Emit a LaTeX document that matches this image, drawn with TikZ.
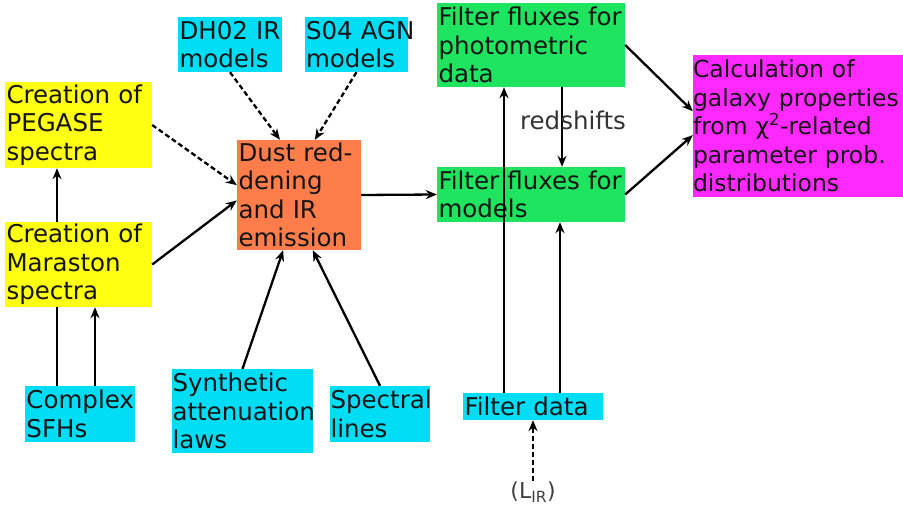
\documentclass[tikz,border=0pt]{standalone}
\usepackage{fontspec}
\setmainfont{DejaVu Sans}
\usetikzlibrary{arrows.meta}
\definecolor{boxyellow}{RGB}{255,255,20}
\definecolor{boxcyan}{RGB}{0,221,245}
\definecolor{boxorange}{RGB}{255,125,75}
\definecolor{boxgreen}{RGB}{30,228,95}
\definecolor{boxmagenta}{RGB}{255,40,255}

\begin{document}
\begin{tikzpicture}[x=1pt,y=-1pt,
		box/.style={fill=#1, text=black!92, inner sep=0pt, align=left, font=\fontsize{24.5}{28.5}\selectfont},
		flow/.style={-{Stealth[length=11pt,width=9pt]}, line width=2.3pt},
		dflow/.style={flow, dash pattern=on 5pt off 3pt}]
			\useasboundingbox (0,0) rectangle (903,506);
			% input models
			\node[box=boxcyan, minimum width=104, minimum height=55, text width=101] (dh02) at (230,44.5) {DH02~IR\\models};
			\node[box=boxcyan, minimum width=103, minimum height=55, text width=101] (s04) at (356.5,44.5) {S04~AGN\\models};
			\node[box=boxyellow, minimum width=147, minimum height=86, text width=144] (pegase) at (78.5,125) {Creation~of\\PEGASE\\spectra};
			\node[box=boxyellow, minimum width=147, minimum height=85, text width=144] (maraston) at (78.5,264.5) {Creation~of\\Maraston\\spectra};
			\node[box=boxorange, minimum width=124, minimum height=110, text width=121] (dust) at (299,195) {Dust~red-\\dening\\and~IR\\emission};
			\node[box=boxcyan, minimum width=110, minimum height=56, text width=107] (sfh) at (80,414) {Complex\\SFHs};
			\node[box=boxcyan, minimum width=141, minimum height=84, text width=140] (synth) at (242.5,411) {Synthetic\\attenuation\\laws};
			\node[box=boxcyan, minimum width=100, minimum height=56, text width=99] (lines) at (380,414) {Spectral\\lines};
			% fluxes and fitting
			\node[box=boxgreen, minimum width=188, minimum height=84, text width=185] (photo) at (531,45) {Filter~fluxes~for\\photometric\\data};
			\node[box=boxgreen, minimum width=188, minimum height=55, text width=185] (models) at (531,194.5) {Filter~fluxes~for\\models};
			\node[box=boxmagenta, minimum width=210, minimum height=142, text width=210, font=\fontsize{23.5}{28.5}\selectfont] (calc) at (798,126) {Calculation~of\\galaxy~properties\\from~χ\textsuperscript{2}-related\\parameter~prob.\\distributions};
			\node[box=boxcyan, minimum width=140, minimum height=27, text width=137] (filterdata) at (533,406.5) {Filter~data};
			\node[text=black!75, inner sep=0pt, font=\fontsize{22}{26}\selectfont] (lir) at (533,492) {(L\textsubscript{IR})};

			\draw[dflow] (dh02.south) -- (dust.109);
			\draw[dflow] (s04.south) -- (dust.74);
			\draw[dflow] (pegase.east) -- (dust.171);
			\draw[flow] (maraston.east) -- (dust.185);
			\draw[flow] ([xshift=-21.5pt]maraston.north) -- ([xshift=-21.5pt]pegase.south);
			\draw[line width=2.3pt] ([xshift=-23pt]sfh.north) -- ([xshift=-23pt]sfh.north |- maraston.south);
			\draw[flow] ([xshift=15pt]sfh.north) -- ([xshift=15pt]sfh.north |- maraston.south);
			\draw[flow] (synth.north) -- (dust.254);
			\draw[flow] (lines.north) -- (dust.284);
			\draw[flow] (dust.east) -- (models.west);
			\draw[flow] ([xshift=31pt]photo.south) -- ([xshift=31pt]photo.south |- models.north)
				node[pos=0.42, xshift=11pt, text=black!80, font=\fontsize{24.5}{28.5}\selectfont] {redshifts};
			\draw[flow] (photo.east) -- (calc.172);
			\draw[flow] (models.east) -- (calc.185);
			\draw[flow] ([xshift=-29pt]filterdata.north) -- ([xshift=-29pt]filterdata.north |- photo.south);
			\draw[flow] ([xshift=27pt]filterdata.north) -- ([xshift=27pt]filterdata.north |- models.south);
			\draw[dflow] (lir.north) -- (filterdata.south);
		\end{tikzpicture}
\end{document}
